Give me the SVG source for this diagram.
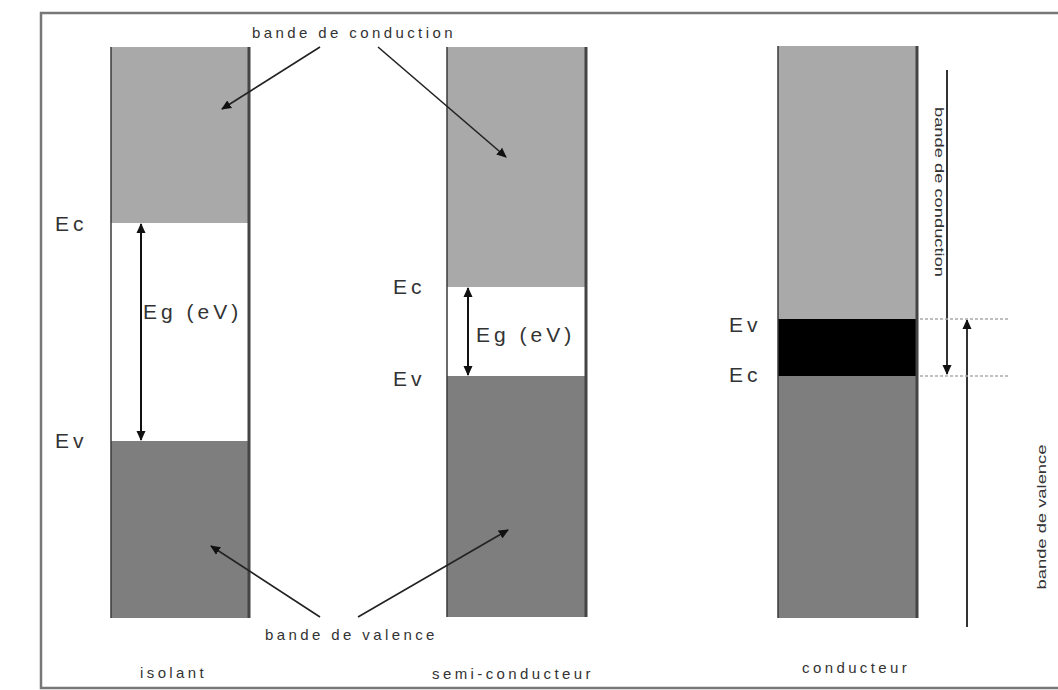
<svg xmlns="http://www.w3.org/2000/svg" width="1058" height="690" viewBox="0 0 1058 690">
<defs>
<marker id="ah" viewBox="0 0 10 10" refX="9" refY="5" markerWidth="10" markerHeight="10" markerUnits="userSpaceOnUse" orient="auto">
<path d="M0,0.5 L10,5 L0,9.5 Z" fill="#111"/>
</marker>
<marker id="ahs" viewBox="0 0 10 10" refX="9" refY="5" markerWidth="10" markerHeight="10" markerUnits="userSpaceOnUse" orient="auto-start-reverse">
<path d="M0,0.5 L10,5 L0,9.5 Z" fill="#111"/>
</marker>
</defs>
<style>
.light{fill:#a9a9a9}
.dark{fill:#7e7e7e}
.edgeL{stroke:#3a3a3a;stroke-width:1.5}
.edgeR{stroke:#444;stroke-width:3}
.lbl{font-family:"Liberation Sans",Arial,sans-serif;font-size:21px;fill:#333;letter-spacing:4px}
.sm{font-family:"Liberation Sans",Arial,sans-serif;font-size:15px;fill:#333;letter-spacing:3.4px}
.vt{font-family:"Liberation Sans",Arial,sans-serif;font-size:13px;fill:#333}
.ptr{stroke:#222;stroke-width:1.6;fill:none;marker-end:url(#ah)}
.dbl{stroke:#111;stroke-width:2;fill:none;marker-end:url(#ahs);marker-start:url(#ahs)}
.one{stroke:#333;stroke-width:2;fill:none;marker-end:url(#ah)}
.dot{stroke:#aaa;stroke-width:1.5;stroke-dasharray:3 2;fill:none}
</style>
<rect width="1058" height="690" fill="#fff"/>
<path d="M1058,13 H41 V688 H1058" fill="none" stroke="#777" stroke-width="2.5"/>

<g id="isolant">
<rect class="light" x="111" y="47" width="139" height="176"/>
<rect class="dark" x="111" y="441" width="139" height="177"/>
<line class="edgeL" x1="111" y1="47" x2="111" y2="618"/>
<line class="edgeR" x1="249" y1="47" x2="249" y2="618"/>
<text class="lbl" x="55" y="231">Ec</text>
<text class="lbl" x="55" y="448">Ev</text>
<text class="lbl" x="143" y="319">Eg (eV)</text>
<text class="sm" x="140" y="678">isolant</text>
</g>

<g id="semi">
<rect class="light" x="447" y="47" width="140" height="240"/>
<rect class="dark" x="447" y="376" width="140" height="241"/>
<line class="edgeL" x1="447" y1="47" x2="447" y2="617"/>
<line class="edgeR" x1="586" y1="47" x2="586" y2="617"/>
<text class="lbl" x="393" y="294">Ec</text>
<text class="lbl" x="393" y="386">Ev</text>
<text class="lbl" x="476" y="342">Eg (eV)</text>
<text class="sm" x="432" y="679">semi-conducteur</text>
</g>

<g id="conducteur">
<rect class="light" x="778" y="46" width="140" height="273"/>
<rect x="778" y="319" width="140" height="57" fill="#000"/>
<rect class="dark" x="778" y="376" width="140" height="242"/>
<line class="edgeL" x1="778" y1="46" x2="778" y2="618"/>
<line class="edgeR" x1="917" y1="46" x2="917" y2="618"/>
<text class="lbl" x="729" y="332">Ev</text>
<text class="lbl" x="729" y="382">Ec</text>
<text class="sm" x="802" y="673">conducteur</text>
</g>

<g id="labels">
<text class="sm" x="252" y="38">bande de conduction</text>
<text class="sm" x="265" y="640">bande de valence</text>
<text class="vt" transform="translate(935,192) rotate(90)" text-anchor="middle" textLength="170" lengthAdjust="spacingAndGlyphs">bande de conduction</text>
<text class="vt" transform="translate(1046,517) rotate(-90)" text-anchor="middle" textLength="145" lengthAdjust="spacingAndGlyphs">bande de valence</text>
</g>

<g id="connectors">
<line class="ptr" x1="320" y1="47" x2="222" y2="109"/>
<line class="ptr" x1="378" y1="47" x2="506" y2="157"/>
<line class="ptr" x1="320" y1="617" x2="211" y2="546"/>
<line class="ptr" x1="358" y1="617" x2="508" y2="530"/>
<line class="dbl" x1="141" y1="224" x2="141" y2="440"/>
<line class="dbl" x1="468" y1="288" x2="468" y2="375"/>
<line class="one" x1="947" y1="70" x2="947" y2="374"/>
<line class="one" x1="967" y1="627" x2="967" y2="320"/>
<line class="dot" x1="920" y1="319" x2="1008" y2="319"/>
<line class="dot" x1="920" y1="376" x2="1008" y2="376"/>
</g>
</svg>
